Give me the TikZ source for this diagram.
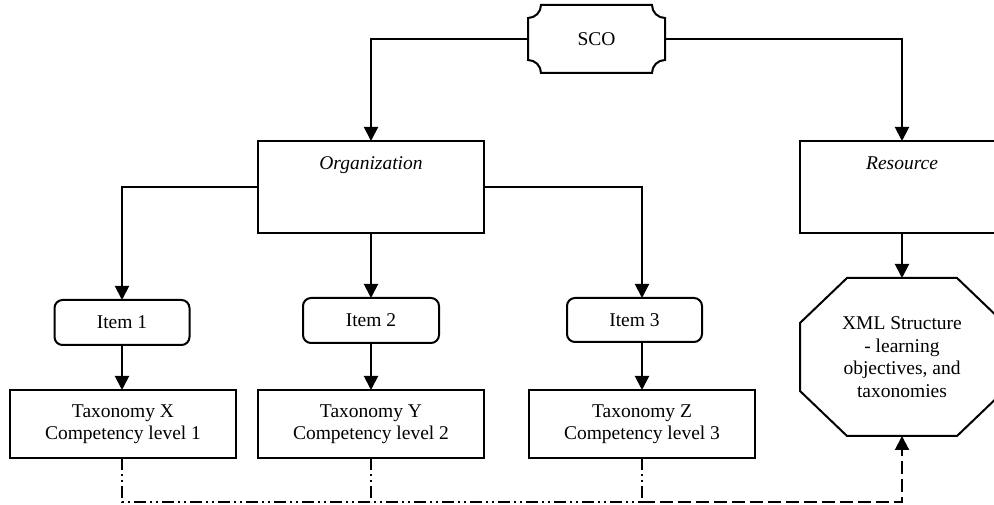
\documentclass[tikz,border=0pt]{standalone}
\usepackage{fontspec}
\setmainfont{Liberation Serif}
\usetikzlibrary{arrows.meta,calc}
\begin{document}
\begin{tikzpicture}[x=1pt,y=1pt,
  every node/.style={font=\fontsize{19.5}{22.5}\selectfont, align=center, inner sep=0pt, outer sep=0pt},
  box/.style={draw, line width=2pt, rectangle},
  itembox/.style={draw, line width=2pt, rectangle, rounded corners=8pt},
  frame/.style={line width=2pt, line join=miter},
  conn/.style={line width=2pt, -{Triangle[width=14pt,length=14pt]}},
  ddotline/.style={line width=2pt, dash pattern=on 12pt off 4pt on 2pt off 4pt on 2pt off 4pt},
  dashline/.style={line width=2pt, dash pattern=on 13pt off 5pt, -{Triangle[width=14pt,length=14pt]}}
]
\useasboundingbox (0,0) rectangle (994,505);
\clip (0,0) rectangle (994,505);

% nodes
\node[minimum width=137pt, minimum height=68pt] (sco) at (596.5,466) {SCO};
\node[box, minimum width=226pt, minimum height=92pt,
      label={[anchor=base,yshift=-29pt]north:\textit{Organization}}] (org) at (371,318) {};
\node[box, minimum width=204pt, minimum height=92pt,
      label={[anchor=base,yshift=-29pt]north:\textit{Resource}}] (res) at (902,318) {};
\node[itembox, minimum width=135pt, minimum height=45pt] (it1) at (122,182.5) {Item 1};
\node[itembox, minimum width=136pt, minimum height=45pt] (it2) at (371,184.5) {Item 2};
\node[itembox, minimum width=135pt, minimum height=44pt] (it3) at (634.5,185) {Item 3};
\node[box, minimum width=226pt, minimum height=68pt] (tx) at (123,81) {Taxonomy X\\Competency level 1};
\node[box, minimum width=226pt, minimum height=68pt] (ty) at (371,81) {Taxonomy Y\\Competency level 2};
\node[box, minimum width=226pt, minimum height=68pt] (tz) at (642,81) {Taxonomy Z\\Competency level 3};
\node[minimum width=204pt, minimum height=158pt] (xml) at (902,148) {XML Structure\\- learning\\objectives, and\\taxonomies};

% SCO plaque outline
\draw[frame] ($(sco.north west)+(13,0)$) -- ($(sco.north east)+(-13,0)$)
  arc[start angle=180,end angle=270,radius=13pt]
  -- ($(sco.south east)+(0,13)$)
  arc[start angle=90,end angle=180,radius=13pt]
  -- ($(sco.south west)+(13,0)$)
  arc[start angle=0,end angle=90,radius=13pt]
  -- ($(sco.north west)+(0,-13)$)
  arc[start angle=270,end angle=360,radius=13pt]
  -- cycle;

% octagon outline
\draw[frame] ($(xml.north west)+(47,0)$) -- ($(xml.north east)+(-47,0)$)
  -- ($(xml.north east)+(0,-45)$) -- ($(xml.south east)+(0,45)$)
  -- ($(xml.south east)+(-47,0)$) -- ($(xml.south west)+(47,0)$)
  -- ($(xml.south west)+(0,45)$) -- ($(xml.north west)+(0,-45)$) -- cycle;

% connectors
\draw[conn] (sco.west) -| (org.north);
\draw[conn] (sco.east) -| (res.north);
\draw[conn] (org.west) -| (it1.north);
\draw[conn] (org.south) -- (it2.north);
\draw[conn] (org.east) -| (tz.north |- it3.north);
\draw[conn] (res.south) -- (xml.north);
\draw[conn] (it1.south) -- (it1.south |- tx.north);
\draw[conn] (it2.south) -- (ty.north);
\draw[conn] (tz.north |- it3.south) -- (tz.north);

% bottom links
\coordinate (bl) at ($(it1.south |- tx.south)+(0,-44)$);
\coordinate (bz) at (bl -| tz.south);
\draw[ddotline] (it1.south |- tx.south) -- (bl) -- (bz);
\draw[ddotline] (ty.south) -- (ty.south |- bl);
\draw[ddotline] (tz.south) -- (bz);
\draw[dashline] (bz) -| (xml.south);
\end{tikzpicture}
\end{document}
